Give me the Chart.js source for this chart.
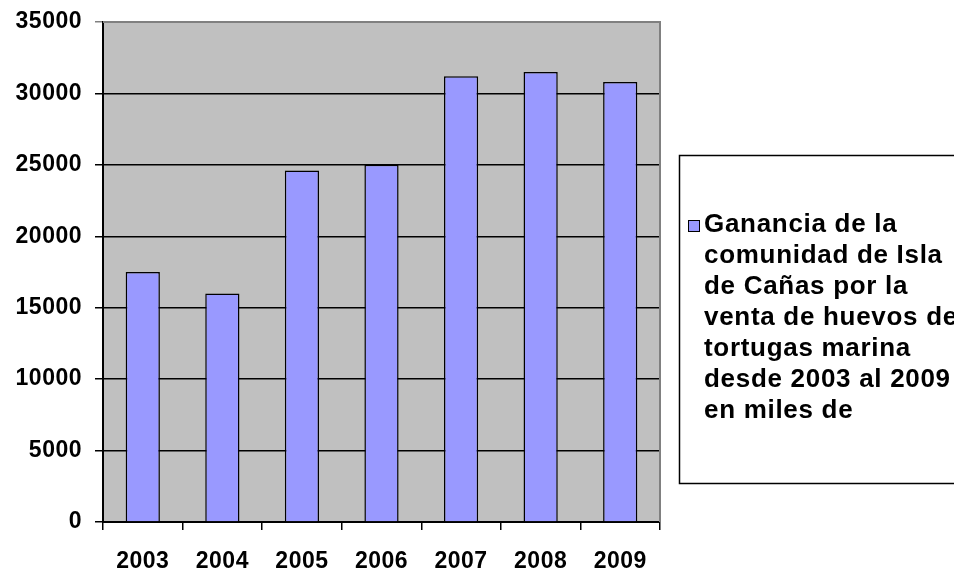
<!DOCTYPE html>
<html>
<head>
<meta charset="utf-8">
<script src="https://cdn.jsdelivr.net/npm/chart.js@4/dist/chart.umd.min.js"></script>
<style>
  html, body { margin: 0; padding: 0; background: #fff; }
  #wrap { width: 954px; height: 572px; position: relative; }
</style>
</head>
<body>
<div id="wrap"><canvas id="graph" width="954" height="572"></canvas></div>
<script>
const years = ['2003', '2004', '2005', '2006', '2007', '2008', '2009'];
const ganancia = [17500, 16000, 24600, 25000, 31200, 31500, 30800];
const yMax = 35000;
const yStep = 5000;
const seriesLines = [
  'Ganancia de la',
  'comunidad de Isla',
  'de Cañas por la',
  'venta de huevos de',
  'tortugas marina',
  'desde 2003 al 2009',
  'en miles de'
];

const FONT = '"Liberation Sans", Arial, sans-serif';
const graphCanvas = document.getElementById('graph');

// grey plot background + page white
const plotBg = {
  id: 'plotBg',
  beforeDraw(chart) {
    const { ctx, chartArea: a } = chart;
    ctx.fillStyle = '#fff';
    ctx.fillRect(0, 0, chart.width, chart.height);
    ctx.fillStyle = '#c0c0c0';
    ctx.fillRect(a.left, a.top, a.right - a.left, a.bottom - a.top);
    ctx.letterSpacing = '0.5px';
  },
  beforeDatasetsDraw(chart) {
    const { ctx, chartArea: a } = chart;
    ctx.save();
    ctx.strokeStyle = '#808080';
    ctx.lineWidth = 2;
    ctx.beginPath();
    ctx.moveTo(a.left, a.top);
    ctx.lineTo(a.right, a.top);
    ctx.lineTo(a.right, a.bottom);
    ctx.stroke();
    ctx.restore();
  }
};

// legend box on the right, text wrapped like the original
const sideLegend = {
  id: 'sideLegend',
  afterDraw(chart) {
    const ctx = chart.ctx;
    ctx.save();
    ctx.letterSpacing = '0.7px';
    ctx.strokeStyle = '#000';
    ctx.lineWidth = 1.5;
    ctx.strokeRect(679.5, 155.5, 300, 328);
    ctx.fillStyle = chart.data.datasets[0].backgroundColor;
    ctx.fillRect(688, 220, 11, 11);
    ctx.lineWidth = 1;
    ctx.strokeRect(688.5, 220.5, 11, 11);
    ctx.fillStyle = '#000';
    ctx.font = 'bold 26px ' + FONT;
    ctx.textBaseline = 'alphabetic';
    seriesLines.forEach((line, i) => {
      ctx.fillText(line, 704, 232 + i * 31);
    });
    ctx.restore();
  }
};

new Chart(graphCanvas, {
  type: 'bar',
  data: {
    labels: years,
    datasets: [{
      label: seriesLines.join(' '),
      data: ganancia,
      backgroundColor: '#9999ff',
      borderColor: '#000',
      borderWidth: 1.5,
      barPercentage: 0.43,
      categoryPercentage: 1
    }]
  },
  options: {
    responsive: false,
    animation: false,
    layout: { autoPadding: false, padding: { left: 0, top: 22, right: 294, bottom: 0 } },
    plugins: { legend: { display: false }, tooltip: { enabled: false } },
    scales: {
      x: {
        afterFit: s => { s.height = 50; },
        border: { color: '#000', width: 2 },
        grid: { offset: true, drawOnChartArea: false, drawTicks: true, tickLength: 8, color: '#000', lineWidth: 1.5 },
        ticks: { color: '#000', font: { family: FONT, size: 23, weight: 'bold' }, padding: 18, maxRotation: 0 }
      },
      y: {
        min: 0,
        max: yMax,
        afterFit: s => { s.width = 103; },
        border: { color: '#000', width: 2 },
        grid: {
          color: ctx => ctx.tick && ctx.tick.value === yMax ? '#808080' : '#000',
          lineWidth: 1.5,
          tickLength: 8
        },
        ticks: {
          stepSize: yStep,
          color: '#000',
          // small lineHeight keeps the top label from pushing the plot down
          font: { family: FONT, size: 23, weight: 'bold', lineHeight: 0.6 },
          padding: 13,
          callback: v => String(v)
        }
      }
    }
  },
  plugins: [plotBg, sideLegend]
});
</script>
</body>
</html>
